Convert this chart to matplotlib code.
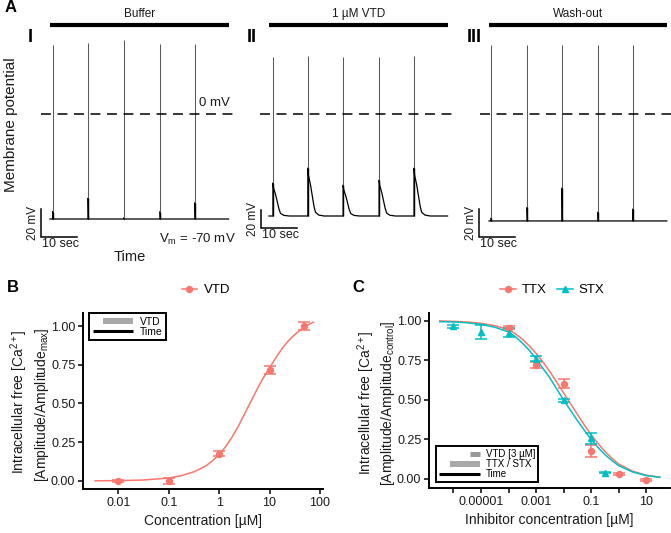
import matplotlib.pyplot as plt
import numpy as np
from matplotlib.legend_handler import HandlerBase
from matplotlib.lines import Line2D

plt.rcParams["font.family"] = ["Liberation Sans", "DejaVu Sans"]
plt.rcParams["mathtext.fontset"] = "custom"
plt.rcParams["mathtext.rm"] = "Liberation Sans"
plt.rcParams["mathtext.it"] = "Liberation Sans:italic"
plt.rcParams["mathtext.bf"] = "Liberation Sans:bold"

W, H = 671, 533
RED = "#F8766D"
TEAL = "#00BFC4"
INK = "#1a1a1a"

# ---------------- panel A: membrane potential recordings ----------------
condition_labels = ["Buffer", "1 µM VTD", "Wash-out"]
numerals = ["I", "II", "III"]
trace_length_s = [49.6, 49.6, 49.4]
baseline_mv = [-70.0, -68.0, -71.3]
spike_times_s = [
    [0.8, 10.6, 20.6, 30.6, 40.3],
    [1.1, 10.8, 20.6, 30.6, 40.3],
    [0.6, 10.6, 20.3, 30.3, 40.0],
]
spike_peak_mv = [
    [46.0, 47.6, 49.3, 46.4, 46.4],
    [38.0, 38.5, 38.0, 38.0, 38.5],
    [46.0, 46.0, 46.0, 46.0, 46.0],
]
# depolarisation at the foot of each spike, above baseline
foot_amp_mv = [
    [5.0, 14.0, 1.0, 5.0, 11.0],
    [22.0, 32.0, 20.7, 24.0, 32.0],
    [2.0, 9.0, 22.0, 6.0, 8.0],
]
fast_decay_s = [0.0, 0.1]
fast_decay_frac = [1.0, 0.0]
adp_decay_s = [0.0, 0.15, 0.75, 1.2, 1.7, 2.1, 3.0, 4.5]
adp_decay_frac = [1.0, 0.85, 0.64, 0.43, 0.2, 0.08, 0.02, 0.0]
scale_bar_mv = [19, 12, 19]
scale_bar_bottom_mv = [-82, -76, -82]
scale_bar_x_s = [-2.5, -2.2, -2.8]

# ---------------- panel B: VTD concentration response ----------------
vtd_conc = [0.01, 0.1, 1, 10, 49]
vtd_resp = [0.0, 0.0, 0.177, 0.716, 1.0]
vtd_err = [0.006, 0.02, 0.015, 0.024, 0.027]
vtd_fit_log = [-2.46, -2, -1.5, -1, -0.75, -0.5, -0.375, -0.25, -0.125, 0, 0.125, 0.25, 0.375,
               0.5, 0.625, 0.75, 0.875, 1, 1.125, 1.25, 1.375, 1.5, 1.625, 1.75, 1.87]
vtd_fit_resp = [0.001, 0.002, 0.006, 0.019, 0.034, 0.059, 0.078, 0.10, 0.132, 0.17, 0.22, 0.28,
                0.35, 0.43, 0.51, 0.59, 0.665, 0.73, 0.795, 0.855, 0.905, 0.945, 0.978, 1.005,
                1.025]

# ---------------- panel C: TTX / STX inhibition ----------------
ttx_conc = [1e-4, 1e-3, 1e-2, 0.1, 1, 10]
ttx_resp = [0.958, 0.72, 0.604, 0.177, 0.032, -0.006]
ttx_err = [0.01, 0.02, 0.026, 0.037, 0.005, 0.006]
stx_conc = [1e-6, 1e-5, 1e-4, 1e-3, 1e-2, 0.1, 0.32]
stx_resp = [0.966, 0.93, 0.926, 0.762, 0.499, 0.257, 0.04]
stx_err = [0.01, 0.042, 0.03, 0.018, 0.01, 0.034, 0.005]
fit_log_c = [-6.5, -6, -5.5, -5, -4.5, -4, -3.75, -3.5, -3.25, -3, -2.75, -2.5, -2.25, -2, -1.75,
             -1.5, -1.25, -1, -0.75, -0.5, -0.25, 0, 0.5, 1, 1.5]
ttx_fit = [1.0, 0.997, 0.993, 0.985, 0.97, 0.945, 0.918, 0.885, 0.843, 0.795, 0.74, 0.68, 0.613,
           0.545, 0.478, 0.41, 0.343, 0.28, 0.225, 0.175, 0.133, 0.095, 0.05, 0.024, 0.012]
stx_fit = [0.995, 0.993, 0.988, 0.978, 0.96, 0.93, 0.90, 0.86, 0.815, 0.76, 0.70, 0.64, 0.57,
           0.50, 0.435, 0.37, 0.31, 0.25, 0.20, 0.155, 0.118, 0.085, 0.045, 0.022, 0.01]


def pbox(x0, y0, x1, y1):
    return [x0 / W, 1 - y1 / H, (x1 - x0) / W, (y1 - y0) / H]


def build_baseline(length, base, times, feet, dec_t, dec_f):
    # slow part of the recording; the fast spikes are drawn on top
    t, v = [0.0], [base]
    for ts, ft in zip(times, feet):
        t += [ts, ts]
        v += [base, base + ft]
        for dt, fr in zip(dec_t[1:], dec_f[1:]):
            t.append(ts + dt)
            v.append(base + ft * fr)
    t.append(length)
    v.append(base)
    return np.array(t), np.array(v)


class PartialLine(HandlerBase):
    def __init__(self, frac, **kw):
        super().__init__(**kw)
        self.frac = frac

    def create_artists(self, legend, orig, xdescent, ydescent, width, height, fontsize, trans):
        x1 = -xdescent + width
        x0 = x1 - width * self.frac
        y = -ydescent + height / 2
        line = Line2D([x0, x1], [y, y], color=orig.get_color(), lw=orig.get_linewidth(),
                      solid_capstyle="butt")
        line.set_transform(trans)
        return [line]


fig = plt.figure(figsize=(W / 100, H / 100), dpi=100)

# panel A --------------------------------------------------------------
PX_S, PX_MV, ZERO_PX = 3.6, 1.5, 114
trace_start_px = [50, 269, 489]
for i in range(3):
    xs = trace_start_px[i]
    ax = fig.add_axes(pbox(xs - 40, 0, xs + 190, 262))
    ax.set_xlim(-40 / PX_S, 190 / PX_S)
    ax.set_ylim((ZERO_PX - 262) / PX_MV, ZERO_PX / PX_MV)
    ax.axis("off")

    if i == 1:
        dec_t, dec_f = adp_decay_s, adp_decay_frac
    else:
        dec_t, dec_f = fast_decay_s, fast_decay_frac
    t, v = build_baseline(trace_length_s[i], baseline_mv[i], spike_times_s[i], foot_amp_mv[i],
                          dec_t, dec_f)
    ax.plot(t, v, color="black", lw=0.9)
    ax.vlines(spike_times_s[i], baseline_mv[i], spike_peak_mv[i], color="#5a5a5a", lw=0.75)
    ax.vlines(spike_times_s[i], baseline_mv[i], np.array(foot_amp_mv[i]) + baseline_mv[i],
              color="black", lw=1.0)

    ax.plot([-2.4, 50.7], [0, 0], color="black", lw=1.1, linestyle=(0, (6.5, 4.3)))
    ax.plot([0, trace_length_s[i]], [59.3, 59.3], color="black", lw=3, solid_capstyle="butt")
    ax.text(trace_length_s[i] / 2, 66.5, condition_labels[i], ha="center", va="center",
            fontsize=8.5, color=INK)

    # scale bars
    bx, by = scale_bar_x_s[i], scale_bar_bottom_mv[i]
    ax.plot([bx, bx, bx + 10], [by + scale_bar_mv[i], by, by], color="black", lw=1.1,
            solid_joinstyle="miter")
    ax.text(bx - 0.6, by + scale_bar_mv[i] / 2, "20 mV", rotation=90, ha="right", va="center",
            fontsize=8.5, color=INK)
    ax.text(bx + 5.3, by - 0.8, "10 sec", ha="center", va="top", fontsize=9, color=INK)

    fig.text([30, 252, 474][i] / W, 1 - 38 / H, numerals[i], fontsize=13, fontweight="bold",
             ha="center", va="center")
    if i == 0:
        ax.text(45.6, 3.5, "0 mV", ha="center", va="bottom", fontsize=9.5, color=INK)
        ax.text(41, -83.5, r"V$_\mathrm{m}$ = -70 mV", ha="center", va="center", fontsize=9.5,
                color=INK)

fig.text(11 / W, 1 - 8 / H, "A", fontsize=12, fontweight="bold", ha="center", va="center")
fig.text(11 / W, 1 - 125 / H, "Membrane potential", rotation=90, fontsize=11, ha="center",
         va="center", color=INK)
fig.text(130 / W, 1 - 257 / H, "Time", fontsize=10.5, ha="center", va="center", color=INK)


def style_axes(ax):
    for side in ["top", "right"]:
        ax.spines[side].set_visible(False)
    for side in ["left", "bottom"]:
        ax.spines[side].set_linewidth(1.4)
        ax.spines[side].set_color("black")
    ax.tick_params(which="major", length=3.5, width=1.1, direction="out", labelsize=9,
                   labelcolor=INK, pad=2)
    ax.minorticks_off()
    ax.set_yticks([0, 0.25, 0.5, 0.75, 1.0])
    ax.set_yticklabels(["0.00", "0.25", "0.50", "0.75", "1.00"])


# panel B --------------------------------------------------------------
axB = fig.add_axes(pbox(83, 313, 323, 489))
axB.set_xscale("log")
axB.plot(np.power(10.0, vtd_fit_log), vtd_fit_resp, color=RED, lw=1.1)
axB.errorbar(vtd_conc, vtd_resp, yerr=vtd_err, fmt="o", color=RED, ms=4.3, capsize=4.5,
             elinewidth=1.1, capthick=1.1)
axB.set_xlim(10 ** -2.7, 10 ** 2.06)
axB.set_ylim(-0.052, 1.084)
style_axes(axB)
axB.set_xticks([0.01, 0.1, 1, 10, 100])
axB.set_xticklabels(["0.01", "0.1", "1", "10", "100"])
axB.set_xlabel("Concentration [µM]", fontsize=10, color=INK, labelpad=4)

hB1 = Line2D([], [], color="#a8a8a8", lw=4.3)
hB2 = Line2D([], [], color="black", lw=2.2)
legB = axB.legend([hB1, hB2], ["VTD", "Time"], loc="upper left", bbox_to_anchor=(0.025, 1.0),
                  handler_map={hB1: PartialLine(0.75), hB2: PartialLine(1.0)}, fontsize=7.5,
                  handlelength=3.9, handletextpad=0.6, labelspacing=0.0, borderpad=0.35,
                  fancybox=False, framealpha=1, borderaxespad=0)
legB.get_frame().set_edgecolor("black")
legB.get_frame().set_linewidth(1.4)

fig.text(19 / W, 1 - 402 / H, r"Intracellular free [Ca$^{2+}$]", rotation=90, fontsize=10,
         ha="center", va="center", color=INK)
fig.text(42 / W, 1 - 405 / H, r"[Amplitude/Amplitude$_\mathrm{max}$]", rotation=90, fontsize=10,
         ha="center", va="center", color=INK)
fig.text(13 / W, 1 - 288 / H, "B", fontsize=12, fontweight="bold", ha="center", va="center")
fig.legend([Line2D([], [], color=RED, marker="o", ms=4.3, lw=1.1)], ["VTD"], loc="center",
           bbox_to_anchor=(206 / W, 1 - 290 / H), frameon=False, fontsize=9.5, handlelength=1.2,
           handletextpad=0.5)

# panel C --------------------------------------------------------------
axC = fig.add_axes(pbox(429, 313, 670, 488))
axC.set_xscale("log")
fit_c = np.power(10.0, fit_log_c)
axC.plot(fit_c, ttx_fit, color=RED, lw=1.1)
axC.plot(fit_c, stx_fit, color=TEAL, lw=1.1)
axC.errorbar(ttx_conc, ttx_resp, yerr=ttx_err, fmt="o", color=RED, ms=4.3, capsize=4.5,
             elinewidth=1.1, capthick=1.1)
axC.errorbar(stx_conc, stx_resp, yerr=stx_err, fmt="^", color=TEAL, ms=5, capsize=4.5,
             elinewidth=1.1, capthick=1.1)
axC.set_xlim(10 ** -6.89, 10 ** 1.87)
axC.set_ylim(-0.057, 1.05)
style_axes(axC)
axC.set_xticks([1e-6, 1e-5, 1e-4, 1e-3, 1e-2, 1e-1, 1, 10])
axC.set_xticklabels(["", "0.00001", "", "0.001", "", "0.1", "", "10"])
axC.set_xlabel("Inhibitor concentration [µM]", fontsize=10, color=INK, labelpad=4)

hC1 = Line2D([], [], color="#999999", lw=3.6)
hC2 = Line2D([], [], color="#a8a8a8", lw=4.3)
hC3 = Line2D([], [], color="black", lw=2.2)
legC = axC.legend([hC1, hC2, hC3], ["VTD [3 µM]", "TTX / STX", "Time"], loc="lower left",
                  bbox_to_anchor=(0.029, 0.034),
                  handler_map={hC1: PartialLine(0.25), hC2: PartialLine(0.73), hC3: PartialLine(1.0)},
                  fontsize=7, handlelength=4.2, handletextpad=0.6, labelspacing=0.0,
                  borderpad=0.3, fancybox=False, framealpha=1, borderaxespad=0)
legC.get_frame().set_edgecolor("black")
legC.get_frame().set_linewidth(1.4)

fig.text(366 / W, 1 - 403 / H, r"Intracellular free [Ca$^{2+}$]", rotation=90, fontsize=10,
         ha="center", va="center", color=INK)
fig.text(388 / W, 1 - 403 / H, r"[Amplitude/Amplitude$_\mathrm{control}$]", rotation=90,
         fontsize=10, ha="center", va="center", color=INK)
fig.text(358 / W, 1 - 288 / H, "C", fontsize=12, fontweight="bold", ha="center", va="center")
fig.legend([Line2D([], [], color=RED, marker="o", ms=4.3, lw=1.1),
            Line2D([], [], color=TEAL, marker="^", ms=5, lw=1.1)], ["TTX", "STX"], loc="center",
           ncol=2, bbox_to_anchor=(552 / W, 1 - 290 / H), frameon=False, fontsize=9.5,
           handlelength=1.2, handletextpad=0.4, columnspacing=0.8)

fig.savefig("out.png", dpi=100)
